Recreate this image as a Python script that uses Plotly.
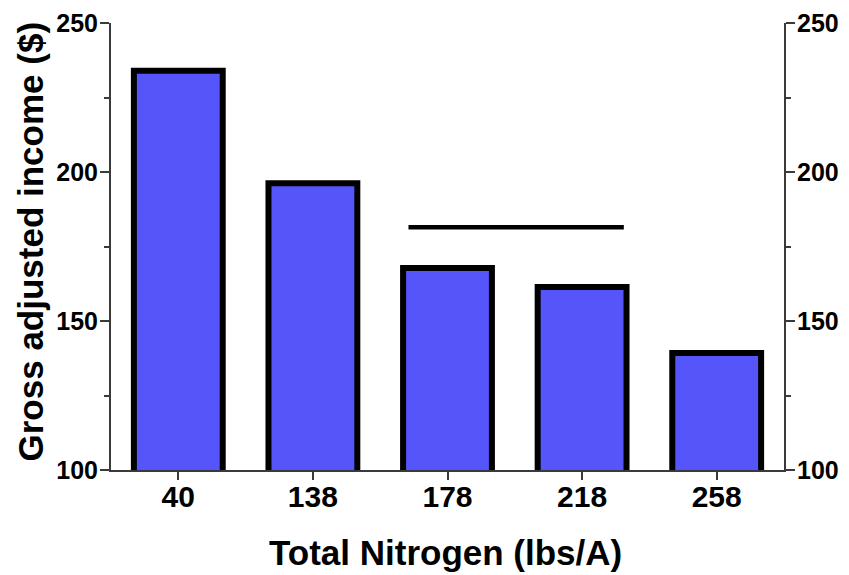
import plotly.graph_objects as go

categories = ["40", "138", "178", "218", "258"]
income = [234.0, 196.2, 167.8, 161.4, 139.3]
sig_line_x = [1.71, 3.31]
sig_line_y = [181.5, 181.5]
y_ticks = [100, 150, 200, 250]

positions = list(range(len(categories)))
font_family = "Liberation Sans, Arial, sans-serif"
axis_col = "#3a3a3a"

fig = go.Figure()
fig.add_trace(go.Bar(
    x=positions, y=income, width=0.66,
    marker=dict(color="#5555FA", line=dict(color="black", width=6)),
    showlegend=False, hoverinfo="skip",
))
fig.add_trace(go.Scatter(
    x=sig_line_x, y=sig_line_y, mode="lines",
    line=dict(color="black", width=4.5), showlegend=False,
))
fig.add_trace(go.Scatter(
    x=[positions[0]], y=[income[0]], yaxis="y2", mode="markers",
    marker=dict(opacity=0), showlegend=False, hoverinfo="skip",
))

common_y = dict(
    range=[100, 250], tickvals=y_ticks,
    showgrid=False, zeroline=False, automargin=False,
    showline=True, linecolor=axis_col, linewidth=2,
    ticks="outside", ticklen=9, tickwidth=2, tickcolor=axis_col,
    ticklabelstandoff=-3, ticklabeloverflow="allow",
    minor=dict(dtick=25, ticks="outside", ticklen=5, tickwidth=2, tickcolor=axis_col),
    tickfont=dict(size=25, family=font_family, color="black", weight="bold"),
)

fig.update_layout(
    width=841, height=567,
    margin=dict(l=103, r=65, t=15, b=105),
    paper_bgcolor="white", plot_bgcolor="white",
    font=dict(family=font_family, color="black"),
    xaxis=dict(
        range=[-0.5, 4.5], tickvals=positions, ticktext=categories,
        showgrid=False, zeroline=False, automargin=False,
        showline=True, linecolor=axis_col, linewidth=2,
        ticks="outside", ticklen=8, tickwidth=2, tickcolor=axis_col,
        ticklabelstandoff=-9, ticklabeloverflow="allow",
        tickfont=dict(size=30, family=font_family, color="black", weight="bold"),
    ),
    yaxis=dict(**common_y),
    yaxis2=dict(**common_y, overlaying="y", side="right"),
    annotations=[
        dict(text="<b>Total Nitrogen (lbs/A)</b>", xref="paper", yref="paper",
             x=0.5, y=0, xshift=-2, yshift=-82, showarrow=False,
             xanchor="center", yanchor="middle", font=dict(size=35, family=font_family)),
        dict(text="<b>Gross adjusted income ($)</b>", xref="paper", yref="paper",
             x=0, y=0.5, xshift=-81, yshift=5, textangle=-90, showarrow=False,
             xanchor="center", yanchor="middle", font=dict(size=35, family=font_family)),
    ],
)

fig.write_html("out.html")
